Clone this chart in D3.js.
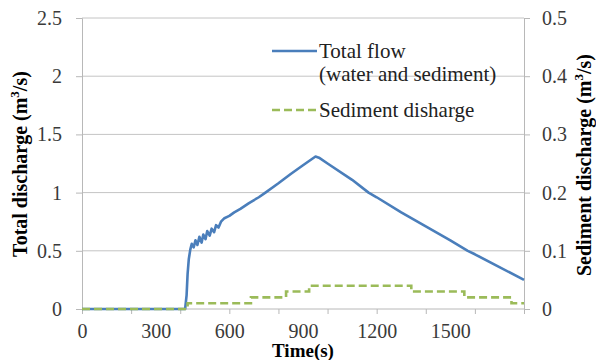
<!DOCTYPE html>
<html>
<head>
<meta charset="utf-8">
<script src="https://cdn.jsdelivr.net/npm/d3@7"></script>
<style>
	html, body { margin: 0; padding: 0; background: #fff; }
	svg text { font-family: 'Liberation Serif', serif !important; }
	.grid line { stroke: #c4c4c4; stroke-width: 1; }
	.axis path, .axis line { stroke: #b8b8b8; }
</style>
</head>
<body>
<svg id="chart" width="596" height="360"></svg>
<script>
;(() => {
	'use strict';

	// total flow (water and sediment), m3/s
	const flowTime = [0, 420, 426, 430, 435, 441, 447, 455, 462, 470, 478, 487, 494, 503, 510, 520, 528, 538, 546, 556, 566, 580, 600, 620, 645, 680, 720, 747, 800, 850, 900, 951, 965, 1000, 1100, 1167, 1200, 1300, 1400, 1500, 1571, 1600, 1700, 1800],
		flowValue = [0, 0, 0.12, 0.3, 0.43, 0.51, 0.56, 0.53, 0.59, 0.55, 0.62, 0.57, 0.64, 0.6, 0.67, 0.63, 0.69, 0.66, 0.72, 0.7, 0.75, 0.78, 0.8, 0.83, 0.86, 0.91, 0.96, 1.0, 1.08, 1.16, 1.235, 1.31, 1.3, 1.25, 1.11, 1.0, 0.96, 0.83, 0.71, 0.59, 0.5, 0.47, 0.36, 0.25];

	// sediment discharge, m3/s (steps)
	const sedTime = [0, 430, 688, 831, 925, 1341, 1557, 1749, 1800],
		sedValue = [0, 0.01, 0.02, 0.03, 0.04, 0.03, 0.02, 0.01, 0.01];

	const xTicks = [0, 200, 400, 600, 800, 1000, 1200, 1400, 1600, 1800],
		xLabels = [0, 300, 600, 900, 1200, 1500],
		leftTicks = [0, 0.5, 1, 1.5, 2, 2.5],
		rightTicks = [0, 0.1, 0.2, 0.3, 0.4, 0.5];

	const left = 82, right = 524, top = 18, bottom = 309;

	const svg = d3.select('#chart');

	const x = d3.scaleLinear().domain([0, 1800]).range([left, right]),
		yL = d3.scaleLinear().domain([0, 2.5]).range([bottom, top]),
		yR = d3.scaleLinear().domain([0, 0.5]).range([bottom, top]);

	const styleTicks = function(g) {
		g.attr('font-size', 20).attr('font-family', null);
		g.selectAll('text').attr('fill', '#3a3a3a');
	};

	// gridlines
	svg.append('g').attr('class', 'grid')
		.selectAll('line')
		.data(leftTicks.slice(1))
		.enter().append('line')
		.attr('x1', left).attr('x2', right)
		.attr('y1', d => yL(d)).attr('y2', d => yL(d));

	// left axis
	svg.append('g').attr('class', 'axis')
		.attr('transform', `translate(${left},0)`)
		.call(d3.axisLeft(yL).tickValues(leftTicks).tickSize(6).tickPadding(14).tickFormat(d3.format('')))
		.call(styleTicks);

	// right axis
	svg.append('g').attr('class', 'axis')
		.attr('transform', `translate(${right},0)`)
		.call(d3.axisRight(yR).tickValues(rightTicks).tickSize(6).tickPadding(12).tickFormat(d3.format('')))
		.call(styleTicks);

	// bottom axis: ticks every 200, labels every 300
	svg.append('g').attr('class', 'axis')
		.attr('transform', `translate(0,${bottom})`)
		.call(d3.axisBottom(x).tickValues(xTicks).tickSize(5).tickFormat(''))
		.select('.domain').remove();
	svg.append('line')
		.attr('x1', left).attr('x2', right)
		.attr('y1', bottom).attr('y2', bottom)
		.attr('stroke', '#b8b8b8');
	svg.append('g').attr('class', 'axis')
		.attr('transform', `translate(0,${bottom})`)
		.call(d3.axisBottom(x).tickValues(xLabels).tickSize(0).tickPadding(15).tickFormat(d3.format('d')))
		.call(styleTicks)
		.select('.domain').remove();

	// series
	const flowLine = d3.line()
		.x((d, i) => x(flowTime[i]))
		.y(d => yL(d));
	const sedLine = d3.line()
		.x((d, i) => x(sedTime[i]))
		.y(d => yR(d))
		.curve(d3.curveStepAfter);

	svg.append('path')
		.datum(flowValue)
		.attr('d', flowLine)
		.attr('fill', 'none')
		.attr('stroke', '#4a7ebb')
		.attr('stroke-width', 2.6)
		.attr('stroke-linejoin', 'round');

	svg.append('path')
		.datum(sedValue)
		.attr('d', sedLine)
		.attr('fill', 'none')
		.attr('stroke', '#9bbb59')
		.attr('stroke-width', 2.6)
		.attr('stroke-dasharray', '8,4');

	// legend
	const legend = svg.append('g').attr('font-size', 21).attr('fill', '#222');
	legend.append('line')
		.attr('x1', 272).attr('x2', 317).attr('y1', 51).attr('y2', 51)
		.attr('stroke', '#4a7ebb').attr('stroke-width', 2.6);
	legend.append('text').attr('x', 319).attr('y', 58).text('Total flow');
	legend.append('text').attr('x', 319).attr('y', 81).text('(water and sediment)');
	legend.append('line')
		.attr('x1', 272).attr('x2', 317).attr('y1', 110).attr('y2', 110)
		.attr('stroke', '#9bbb59').attr('stroke-width', 2.6)
		.attr('stroke-dasharray', '8,4');
	legend.append('text').attr('x', 319).attr('y', 117).text('Sediment disharge');

	// axis titles
	svg.append('text')
		.attr('x', 303).attr('y', 357)
		.attr('text-anchor', 'middle')
		.attr('font-weight', 'bold').attr('font-size', 19)
		.text('Time(s)');

	const addTitle = function(cx, cy, label) {
		const t = svg.append('text')
			.attr('transform', `translate(${cx},${cy}) rotate(-90)`)
			.attr('text-anchor', 'middle')
			.attr('font-weight', 'bold').attr('font-size', 20);
		t.append('tspan').text(label + ' (m');
		t.append('tspan').attr('font-size', 13).attr('dy', -8).text('3');
		t.append('tspan').attr('dy', 8).text('/s)');
	};
	addTitle(27, 164, 'Total discharge');
	addTitle(591, 165, 'Sediment discharge');

})();
</script>
</body>
</html>
